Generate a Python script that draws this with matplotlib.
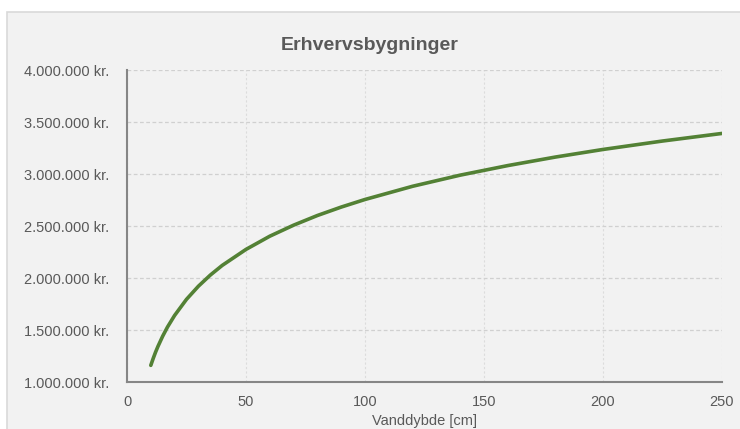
import matplotlib.pyplot as plt
import matplotlib.ticker as mticker
from matplotlib.patches import Rectangle

plt.rcParams['font.family'] = ['Liberation Sans', 'DejaVu Sans']

# vanddybde [cm] og skadesbeløb [kr.] aflæst fra kurven
depth = [10, 11, 12, 13, 15, 17, 20, 25, 30, 35, 40, 50, 60, 70, 80, 90,
         100, 120, 140, 160, 180, 200, 225, 250]
damage = [1160000, 1226000, 1287000, 1342000, 1441000, 1528000, 1640000,
          1795000, 1921000, 2028000, 2121000, 2275000, 2402000, 2508000,
          2601000, 2682000, 2755000, 2882000, 2989000, 3081000, 3163000,
          3236000, 3317000, 3390000]

title = 'Erhvervsbygninger'
xlabel = 'Vanddybde [cm]'
xticks = [0, 50, 100, 150, 200, 250]
yticks = [1000000, 1500000, 2000000, 2500000, 3000000, 3500000, 4000000]

text_col = '#595959'

fig = plt.figure(figsize=(7.4, 4.29), dpi=100)
fig.patch.set_facecolor('white')
fig.patches.append(Rectangle((7 / 740, -0.05), 1.0, 1 - 12 / 429 + 0.05,
                             transform=fig.transFigure, facecolor='#F2F2F2',
                             edgecolor='#D9D9D9', lw=1.2, zorder=-10))

ax = fig.add_axes([127 / 740, 1 - 382 / 429, 595 / 740, 312 / 429])
ax.set_facecolor('none')
ax.plot(depth, damage, color='#538135', lw=2.6, solid_capstyle='round',
        solid_joinstyle='round', zorder=3)

ax.set_xlim(0, 250)
ax.set_ylim(1000000, 4000000)
ax.set_xticks(xticks)
ax.set_yticks(yticks)

def kr(v, pos):
    return '{:,.0f} kr.'.format(v).replace(',', '.')

ax.yaxis.set_major_formatter(mticker.FuncFormatter(kr))
ax.tick_params(axis='both', length=0, labelsize=10.5, labelcolor=text_col)
ax.tick_params(axis='y', pad=13)
ax.tick_params(axis='x', pad=9)

ax.grid(axis='y', color='#D0D0D0', lw=0.9, linestyle=(0, (3, 2)))
ax.grid(axis='x', color='#DCDCDC', lw=0.8, linestyle=(0, (2, 2)))
ax.set_axisbelow(True)

for s in ['top', 'right']:
    ax.spines[s].set_visible(False)
for s in ['left', 'bottom']:
    ax.spines[s].set_color('#868686')
    ax.spines[s].set_linewidth(1.5)

fig.text(370 / 740, 1 - 45 / 429, title, ha='center', va='center',
         fontsize=14, fontweight='bold', color=text_col)
fig.text(424.5 / 740, 1 - 421 / 429, xlabel, ha='center', va='center',
         fontsize=10.5, color=text_col)

fig.savefig('out.png', dpi=100)
